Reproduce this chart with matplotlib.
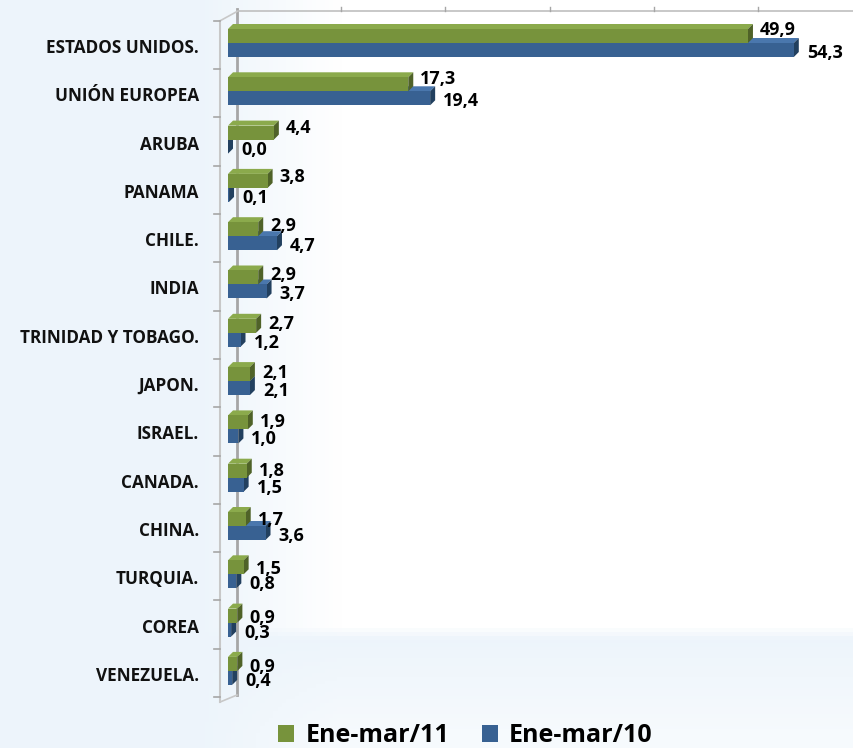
"""Exportaciones por destino, Ene-mar/11 vs Ene-mar/10 (barras horizontales 3D)."""

import numpy as np
import matplotlib

matplotlib.use("Agg")
import matplotlib.pyplot as plt
from matplotlib.patches import Polygon

countries = ["ESTADOS UNIDOS.", "UNIÓN EUROPEA", "ARUBA", "PANAMA", "CHILE.", "INDIA",
             "TRINIDAD Y TOBAGO.", "JAPON.", "ISRAEL.", "CANADA.", "CHINA.", "TURQUIA.",
             "COREA", "VENEZUELA."]
ene_mar_11 = [49.9, 17.3, 4.4, 3.8, 2.9, 2.9, 2.7, 2.1, 1.9, 1.8, 1.7, 1.5, 0.9, 0.9]
ene_mar_10 = [54.3, 19.4, 0.0, 0.1, 4.7, 3.7, 1.2, 2.1, 1.0, 1.5, 3.6, 0.8, 0.3, 0.4]
series_labels = ["Ene-mar/11", "Ene-mar/10"]
x_ticks = [0, 10, 20, 30, 40, 50]

# layout, in pixels of the 854x748 output
W, H = 854, 748
PPU = 10.42          # px per unit of value
X0 = 228             # px of value 0 (front plane)
ROW0, ROW = 45, 48.3  # px of first row centre, px per row

GREEN = ("#77933C", "#8BAA4C", "#4F6228")   # front, top, side
BLUE = ("#386192", "#4A77AD", "#22405F")
GRID = "#A6A6A6"
FONT = ["Open Sans", "DejaVu Sans"]


def dx(p):
    return p / PPU


def dy(p):
    return p / ROW


def px_x(p):
    return (p - X0) / PPU


def px_y(p):
    return (p - ROW0) / ROW


fig = plt.figure(figsize=(W / 100, H / 100), dpi=100)
fig.patch.set_facecolor("#EEF5FB")

# soft background: bluish on the left/bottom, white plot area
bg = fig.add_axes([0, 0, 1, 1])
gx = np.linspace(0, W, 200)
gy = np.linspace(0, H, 200)
GX, GY = np.meshgrid(gx, gy)
t = np.clip((GX - 200) / 140, 0, 1) * np.clip((640 - GY) / 12, 0, 1)
t = np.maximum(t, 0.55 * np.clip((GY - 640) / 100, 0, 1) * np.clip((GX - 200) / 140, 0, 1))
c0 = np.array([0.93, 0.96, 0.985])
img = c0 + (1 - c0) * t[..., None]
bg.imshow(img, extent=[0, W, H, 0], aspect="auto")
bg.axis("off")

ax = fig.add_axes([0, 0, 1, 1])
ax.set_xlim(px_x(0), px_x(W))
ax.set_ylim(px_y(H), px_y(0))
ax.axis("off")
ax.patch.set_alpha(0)

n = len(countries)
idx = np.arange(n)
bh = dy(14)
g_y = idx + dy(-9)
b_y = idx + dy(5)
ddx, ddy = dx(5), dy(-5)


def faces(y, vals, cols, z):
    for yc, v in zip(y, vals):
        top = yc - bh / 2
        bot = yc + bh / 2
        ax.add_patch(Polygon([(0, top), (v, top), (v + ddx, top + ddy), (ddx, top + ddy)],
                             closed=True, facecolor=cols[1], edgecolor="none", zorder=z))
        ax.add_patch(Polygon([(v, top), (v + ddx, top + ddy), (v + ddx, bot + ddy), (v, bot)],
                             closed=True, facecolor=cols[2], edgecolor="none", zorder=z))


# 3D box: back wall line, top edge, front axis with category ticks
back = px_x(237)
front = px_x(220)
ax.plot([back, back], [px_y(9), px_y(695)], color=GRID, lw=2, zorder=1)
ax.plot([back, px_x(W)], [px_y(11.5)] * 2, color="#BFBFBF", lw=1.2, zorder=1)
for xt in x_ticks[1:]:
    ax.plot([xt + dx(9), xt + dx(9)], [px_y(11.5), px_y(7)], color=GRID, lw=1, zorder=1)
ax.plot([front, front], [-0.5, n - 0.5 + dy(5)], color="#C8C8C8", lw=1.5, zorder=1)
ax.plot([front, back], [-0.5, px_y(11.5)], color="#C8C8C8", lw=1.2, zorder=1)
ax.plot([front, back], [n - 0.5 + dy(5), px_y(695)], color="#C8C8C8", lw=1.2, zorder=1)
for b in np.arange(n + 1) - 0.5:
    ax.plot([px_x(214), front], [b, b], color=GRID, lw=1.2, zorder=1)

faces(b_y, ene_mar_10, BLUE, 3)
h10 = ax.barh(b_y, ene_mar_10, height=bh, color=BLUE[0], edgecolor="none", zorder=3.5,
              label=series_labels[1])
faces(g_y, ene_mar_11, GREEN, 4)
h11 = ax.barh(g_y, ene_mar_11, height=bh, color=GREEN[0], edgecolor="none", zorder=4.5,
              label=series_labels[0])

for i in idx:
    ax.text(px_x(199), i + dy(3), countries[i], ha="right", va="center", fontsize=12.3,
            fontweight="bold", family=FONT, color="#111111")
    g_off = -15 + 9 * i / (n - 1)
    ax.text(ene_mar_11[i] + dx(12), i + dy(g_off), f"{ene_mar_11[i]:.1f}".replace(".", ","),
            ha="left", va="center", fontsize=13, fontweight="bold", family=FONT, zorder=6)
    ax.text(ene_mar_10[i] + dx(13), i + dy(8), f"{ene_mar_10[i]:.1f}".replace(".", ","),
            ha="left", va="center", fontsize=13, fontweight="bold", family=FONT, zorder=6)

leg = ax.legend(handles=[h11, h10], loc="center", bbox_to_anchor=(0.545, 1 - 736 / H),
                bbox_transform=fig.transFigure, ncol=2, frameon=False,
                prop={"family": FONT, "weight": "bold", "size": 18},
                handlelength=0.65, handleheight=0.65, handletextpad=0.45, columnspacing=1.3)

fig.savefig("out.png", dpi=100, facecolor=fig.get_facecolor())
